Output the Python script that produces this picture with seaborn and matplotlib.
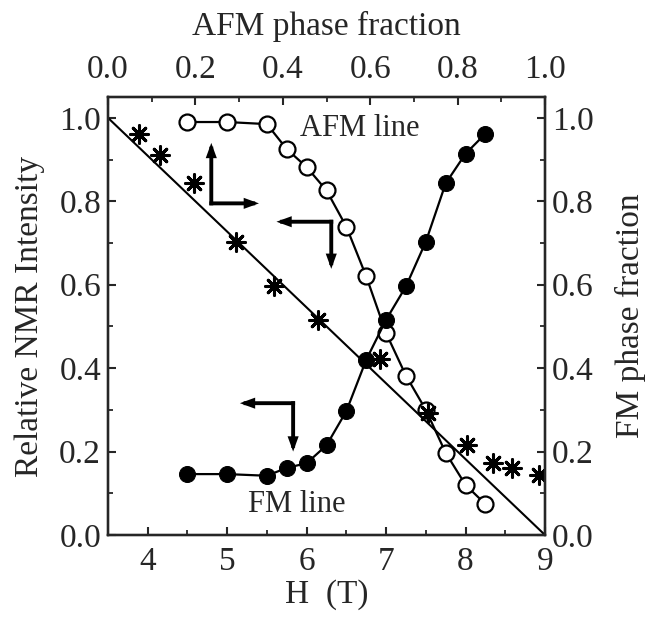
import matplotlib
matplotlib.use("Agg")
import matplotlib.pyplot as plt
from matplotlib.ticker import MultipleLocator
import seaborn as sns

# open circles: AFM line (relative NMR intensity vs field)
afm_h = [4.5, 5.0, 5.5, 5.75, 6.0, 6.25, 6.5, 6.75, 7.0, 7.25, 7.5, 7.75, 8.0, 8.25]
afm_v = [0.99, 0.99, 0.985, 0.925, 0.882, 0.826, 0.739, 0.62, 0.484, 0.382, 0.30, 0.197, 0.12, 0.074]

# filled circles: FM line
fm_h = [4.5, 5.0, 5.5, 5.75, 6.0, 6.25, 6.5, 6.75, 7.0, 7.25, 7.5, 7.75, 8.0, 8.25]
fm_v = [0.146, 0.146, 0.142, 0.161, 0.172, 0.215, 0.297, 0.42, 0.516, 0.596, 0.703, 0.843, 0.914, 0.962]

# asterisks: intensity vs AFM phase fraction (top axis)
star_f = [0.072, 0.119, 0.197, 0.293, 0.38, 0.481, 0.622, 0.733, 0.822, 0.882, 0.924, 0.987]
star_v = [0.961, 0.91, 0.843, 0.702, 0.596, 0.516, 0.421, 0.293, 0.216, 0.172, 0.16, 0.144]

# straight reference line (top axis coords)
line_f = [0.0, 1.0]
line_v = [1.0, 0.0]

# arrow annotations: (corner, tips) in H / intensity coords
arrow_up_right = ((4.80, 0.795), [(4.80, 0.94), (5.40, 0.795)])
arrow_left_down = ((6.31, 0.751), [(5.62, 0.751), (6.31, 0.638)])
arrow_left_down2 = ((5.83, 0.316), [(5.16, 0.316), (5.83, 0.200)])

sns.set_style("ticks")
plt.rcParams["font.family"] = ["Liberation Serif", "DejaVu Serif"]
FS = 24

fig = plt.figure(figsize=(6.49, 6.18), dpi=100)
ax = fig.add_axes([108 / 649, 1 - 535 / 618, 437 / 649, 438 / 618])
ax_top = ax.twiny()
ax_right = ax.twinx()

sns.lineplot(x=afm_h, y=afm_v, ax=ax, sort=False, color="black", lw=1.6,
             marker="o", markersize=11.5, markerfacecolor="white",
             markeredgecolor="black", markeredgewidth=1.6)
sns.lineplot(x=fm_h, y=fm_v, ax=ax, sort=False, color="black", lw=1.6,
             marker="o", markersize=11.5, markerfacecolor="black",
             markeredgecolor="black")

sns.lineplot(x=line_f, y=line_v, ax=ax_top, color="black", lw=1.5)
sns.scatterplot(x=star_f, y=star_v, ax=ax_top, marker=(8, 2, 0), s=160,
                color="black", linewidth=2.2, zorder=5)

for corner, tips in [arrow_up_right, arrow_left_down, arrow_left_down2]:
    for tip in tips:
        ax.annotate("", xy=tip, xytext=corner,
                    arrowprops=dict(arrowstyle="-|>,head_length=0.55,head_width=0.2",
                                    lw=2.8, color="black", shrinkA=0, shrinkB=0,
                                    joinstyle="miter", capstyle="projecting"))

ax.text(5.92, 0.975, "AFM line", fontsize=22, ha="left", va="center")
ax.text(5.26, 0.072, "FM line", fontsize=22, ha="left", va="center")

ax.set_xlim(3.5, 9.0)
ax.set_ylim(0, 1.05)
ax_top.set_xlim(0, 1)
ax_right.set_ylim(0, 1.05)

ax.xaxis.set_major_locator(MultipleLocator(1))
ax.xaxis.set_minor_locator(MultipleLocator(0.5))
ax.yaxis.set_major_locator(MultipleLocator(0.2))
ax.yaxis.set_minor_locator(MultipleLocator(0.1))
ax_top.xaxis.set_major_locator(MultipleLocator(0.2))
ax_top.xaxis.set_minor_locator(MultipleLocator(0.1))
ax_right.yaxis.set_major_locator(MultipleLocator(0.2))
ax_right.yaxis.set_minor_locator(MultipleLocator(0.1))

ax.yaxis.set_major_formatter(plt.FormatStrFormatter("%.1f"))
ax_right.yaxis.set_major_formatter(plt.FormatStrFormatter("%.1f"))
ax_top.xaxis.set_major_formatter(plt.FormatStrFormatter("%.1f"))

for a in (ax, ax_top, ax_right):
    a.tick_params(which="major", direction="in", length=6, width=1.5,
                  labelsize=FS, pad=5)
    a.tick_params(which="minor", direction="in", length=3.5, width=1.3)
    for s in a.spines.values():
        s.set_linewidth(1.6)
ax_top.tick_params(axis="x", pad=9)
ax.tick_params(axis="x", pad=8)

ax.set_xlabel("H  (T)", fontsize=FS, labelpad=2)
ax.set_ylabel("Relative NMR Intensity", fontsize=FS, labelpad=10)
ax_top.set_xlabel("AFM phase fraction", fontsize=FS, labelpad=14)
ax_right.set_ylabel("FM phase fraction", fontsize=FS, labelpad=15)

fig.savefig("out.png", dpi=100)
